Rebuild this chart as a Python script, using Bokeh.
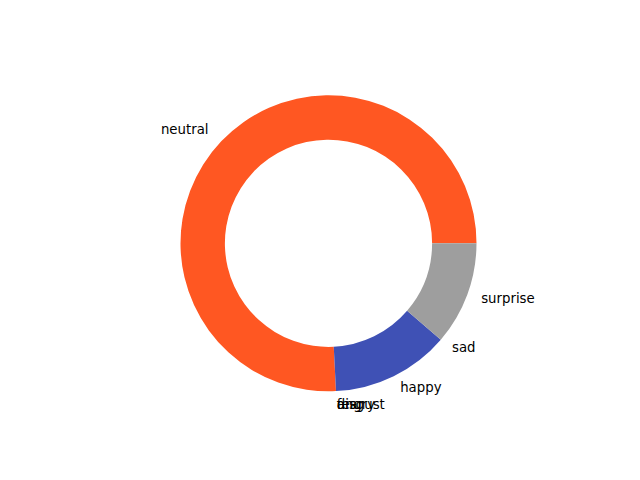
import math
from bokeh.plotting import figure
from bokeh.models import ColumnDataSource
from bokeh.core.properties import value
from bokeh.embed import file_html
from bokeh.resources import INLINE

labels = ["neutral", "angry", "disgust", "fear", "happy", "sad", "surprise"]
counts = [47, 0, 0, 0, 8, 0, 7]
colors = ["#FF5722", "#F44336", "#4CAF50", "#9C27B0", "#3F51B5", "#2196F3", "#9E9E9E"]

total = sum(counts)
starts, ends, lx, ly, aligns, xoffs = [], [], [], [], [], []
acc = 0.0
for c in counts:
    a0 = 2 * math.pi * acc / total
    acc += c
    a1 = 2 * math.pi * acc / total
    starts.append(a0)
    ends.append(a1)
    mid = (a0 + a1) / 2
    x = 1.1 * math.cos(mid)
    y = 1.1 * math.sin(mid)
    lx.append(x)
    ly.append(y)
    aligns.append("left" if x > 0 else "right")
    xoffs.append(0 if x > 0 else -2)

keep = [i for i, c in enumerate(counts) if c > 0]
src = ColumnDataSource(dict(label=[labels[i] for i in keep],
                            count=[counts[i] for i in keep],
                            color=[colors[i] for i in keep],
                            start=[starts[i] for i in keep],
                            end=[ends[i] for i in keep]))
lsrc = ColumnDataSource(dict(label=labels, x=lx, y=ly, align=aligns, xoff=xoffs))

scale = 148.0
W, H = 624, 464
cx, cy = 328.0, 242.8
p = figure(width=W, height=H, output_backend="svg", toolbar_location=None,
           x_range=(-cx / scale, (W - cx) / scale),
           y_range=(-(H - cy) / scale, cy / scale),
           min_border=0)
p.axis.visible = False
p.grid.visible = False
p.outline_line_color = None
p.background_fill_color = "white"

p.annular_wedge(x=0, y=0, inner_radius=0.7, outer_radius=1.0,
                start_angle="start", end_angle="end",
                fill_color="color", line_color=None, source=src)

p.text(x="x", y="y", text="label", text_align="align", source=lsrc,
       x_offset="xoff", y_offset=-1.5,
       text_baseline="middle", text_font=value("DejaVu Sans"),
       text_font_size="13.3px", text_color="black")

open("out.html", "w").write(file_html(p, INLINE))
